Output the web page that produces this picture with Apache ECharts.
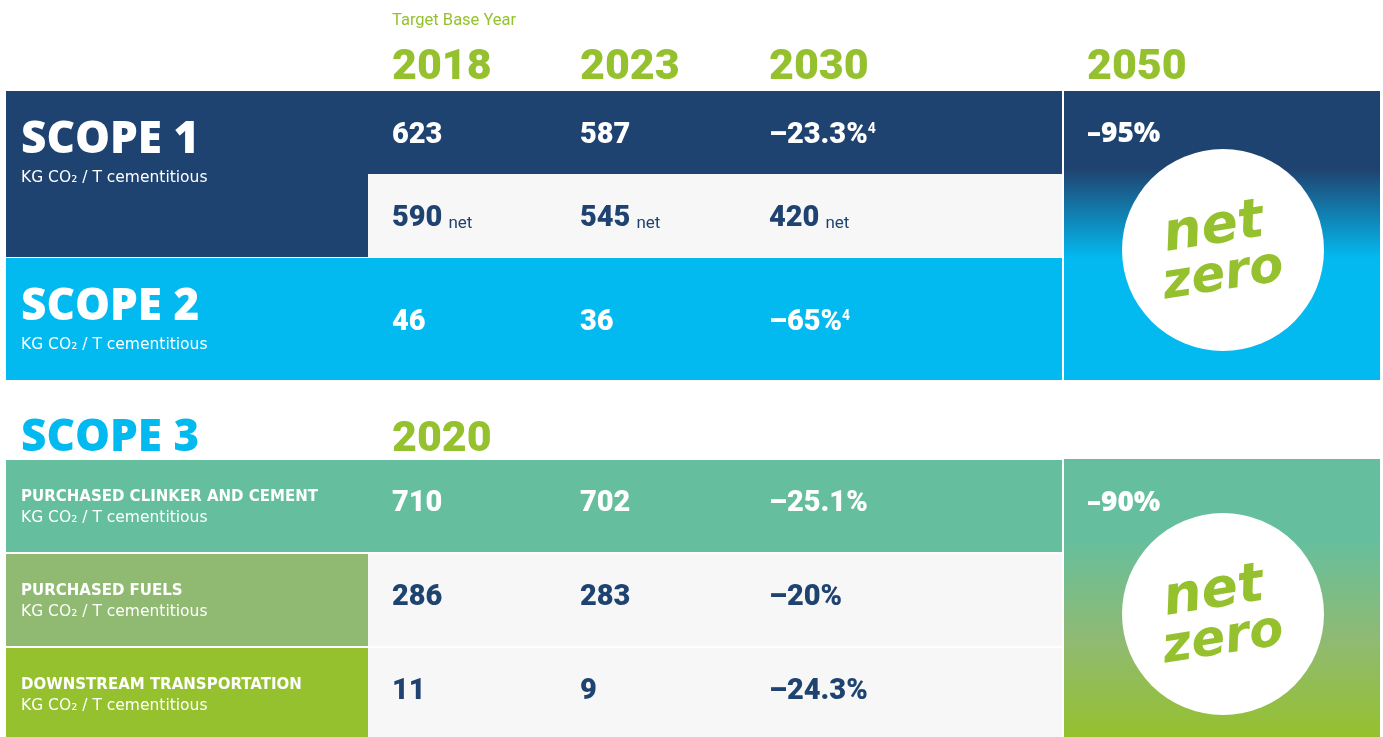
<!DOCTYPE html>
<html>
<head>
<meta charset="utf-8">
<script src="https://cdn.jsdelivr.net/npm/echarts@6/dist/echarts.min.js"></script>
<style>
  html, body { margin: 0; padding: 0; background: #fff; }
  #main { width: 1383px; height: 737px; }
</style>
</head>
<body>
<div id="main"></div>
<script>
// values
const baseYearNote = 'Target Base Year';
const years = ['2018', '2023', '2030'];
const longYear = '2050';
const scope3BaseYear = '2020';
const unitLabel = 'KG CO₂ / T cementitious';

const scope12Names = ['SCOPE 1', 'SCOPE 2'];
const scope1Gross = ['623', '587', '–23.3%'];
const scope1GrossNotes = ['', '', '4'];
const scope1Net = ['590', '545', '420'];
const scope2Values = ['46', '36', '–65%'];
const scope2Notes = ['', '', '4'];
const scope12Target = '–95%';

const scope3Name = 'SCOPE 3';
const scope3Categories = ['PURCHASED CLINKER AND CEMENT', 'PURCHASED FUELS', 'DOWNSTREAM TRANSPORTATION'];
const scope3Values = [
  ['710', '702', '–25.1%'],
  ['286', '283', '–20%'],
  ['11', '9', '–24.3%']
];
const scope3Target = '–90%';

// colours
const navy = '#1f4370';
const blue = '#03baf0';
const grey = '#f7f7f7';
const teal = '#65bf9f';
const olive = '#90ba72';
const green = '#95c12e';

// layout
const colX = [392, 580, 769];
const farX = 1087;
const labelX = 21;
const leftX = 6, splitX = 368, tableRight = 1062;
const sideX = 1064, sideW = 316;
const circleCX = 1223, circleR = 101;

const numFont = 'Roboto, "Liberation Sans", sans-serif';
const headFont = '"Open Sans", "DejaVu Sans", sans-serif';
const smallFont = '"DejaVu Sans", sans-serif';

var myChart = echarts.init(document.getElementById('main'));

const els = [];

function rect(x, y, w, h, fill) {
  els.push({ type: 'rect', shape: { x: x, y: y, width: w, height: h }, style: { fill: fill }, silent: true });
}
function text(x, y, str, opt) {
  els.push({
    type: 'text', x: x, y: y, silent: true,
    style: Object.assign({ text: str, verticalAlign: 'middle', align: 'left' }, opt)
  });
}
// a value cell with optional footnote / "net" suffix
function valueCell(x, y, val, color, note, suffix) {
  let s = '{v|' + val + '}';
  if (note) s += '{s|' + note + '}';
  if (suffix) s += '{n|' + suffix + '}';
  text(x, y + 3, s, {
    rich: {
      v: { fontFamily: numFont, fontWeight: 900, fontSize: 29, fill: color },
      s: { fontFamily: numFont, fontWeight: 700, fontSize: 14, fill: color, padding: [0, 0, 13, 0] },
      n: { fontFamily: numFont, fontWeight: 400, fontSize: 17, fill: color, padding: [9, 0, 0, 6] }
    }
  });
}
function netZero(cy) {
  els.push({ type: 'circle', shape: { cx: circleCX, cy: cy, r: circleR }, style: { fill: '#fff' }, silent: true });
  els.push({
    type: 'group', x: circleCX, y: cy, rotation: 9 * Math.PI / 180, silent: true,
    children: [
      { type: 'text', x: -6, y: -22, style: { text: 'net', fontFamily: '"DejaVu Sans", sans-serif', fontWeight: 'bold', fontStyle: 'italic', fontSize: 54, fill: green, align: 'center', verticalAlign: 'middle' } },
      { type: 'text', x: -4, y: 26, style: { text: 'zero', fontFamily: '"DejaVu Sans", sans-serif', fontWeight: 'bold', fontStyle: 'italic', fontSize: 50, fill: green, align: 'center', verticalAlign: 'middle' } }
    ]
  });
}
function vgrad(stops) {
  return new echarts.graphic.LinearGradient(0, 0, 0, 1, stops);
}

// ---- header years
text(colX[0], 21, baseYearNote, { fontFamily: numFont, fontSize: 16.5, fill: green });
years.forEach((y, i) => text(colX[i], 68, y, { fontFamily: numFont, fontWeight: 900, fontSize: 43, fill: green }));
text(farX, 68, longYear, { fontFamily: numFont, fontWeight: 900, fontSize: 43, fill: green });

// ---- scope 1 & 2 blocks
rect(leftX, 91, splitX - leftX, 166, navy);
rect(splitX, 91, tableRight - splitX, 83, navy);
rect(splitX, 174, tableRight - splitX, 83, grey);
rect(leftX, 258, tableRight - leftX, 122, blue);
rect(sideX, 91, sideW, 289, vgrad([
  { offset: 0, color: navy }, { offset: 0.27, color: navy },
  { offset: 0.58, color: blue }, { offset: 1, color: blue }
]));

const scopeTitleY = [140, 307];
scope12Names.forEach((n, i) => {
  text(labelX, scopeTitleY[i], n, { fontFamily: headFont, fontWeight: 800, fontSize: 44, fill: '#fff' });
  text(labelX, scopeTitleY[i] + 38, unitLabel, { fontFamily: smallFont, fontSize: 15.5, fill: '#fff' });
});
scope1Gross.forEach((v, i) => valueCell(colX[i], 133, v, '#fff', scope1GrossNotes[i]));
scope1Net.forEach((v, i) => valueCell(colX[i], 216, v, navy, '', 'net'));
scope2Values.forEach((v, i) => valueCell(colX[i], 320, v, '#fff', scope2Notes[i]));
text(farX, 134, scope12Target, { fontFamily: headFont, fontWeight: 800, fontSize: 28, fill: '#fff' });
netZero(250);

// ---- scope 3
text(labelX, 438, scope3Name, { fontFamily: headFont, fontWeight: 800, fontSize: 44, fill: blue });
text(colX[0], 440, scope3BaseYear, { fontFamily: numFont, fontWeight: 900, fontSize: 43, fill: green });

const rowTop = [460, 554, 648];
const rowH = [92, 92, 89];
const labelFill = [teal, olive, green];
scope3Categories.forEach((c, r) => {
  if (r === 0) {
    rect(leftX, rowTop[r], tableRight - leftX, rowH[r], teal);
  } else {
    rect(leftX, rowTop[r], splitX - leftX, rowH[r], labelFill[r]);
    rect(splitX, rowTop[r], tableRight - splitX, rowH[r], grey);
  }
  const mid = rowTop[r] + 37;
  text(labelX, mid, c, { fontFamily: smallFont, fontWeight: 'bold', fontSize: 15, fill: '#fff' });
  text(labelX, mid + 21, unitLabel, { fontFamily: smallFont, fontSize: 15.5, fill: '#fff' });
  const col = r === 0 ? '#fff' : navy;
  scope3Values[r].forEach((v, i) => valueCell(colX[i], mid + 4, v, col));
});
rect(sideX, 459, sideW, 278, vgrad([
  { offset: 0, color: teal }, { offset: 0.28, color: teal },
  { offset: 0.65, color: olive }, { offset: 1, color: green }
]));
text(farX, 503, scope3Target, { fontFamily: headFont, fontWeight: 800, fontSize: 28, fill: '#fff' });
netZero(614);

myChart.setOption({
  animation: false,
  graphic: { elements: els }
});
</script>
</body>
</html>
